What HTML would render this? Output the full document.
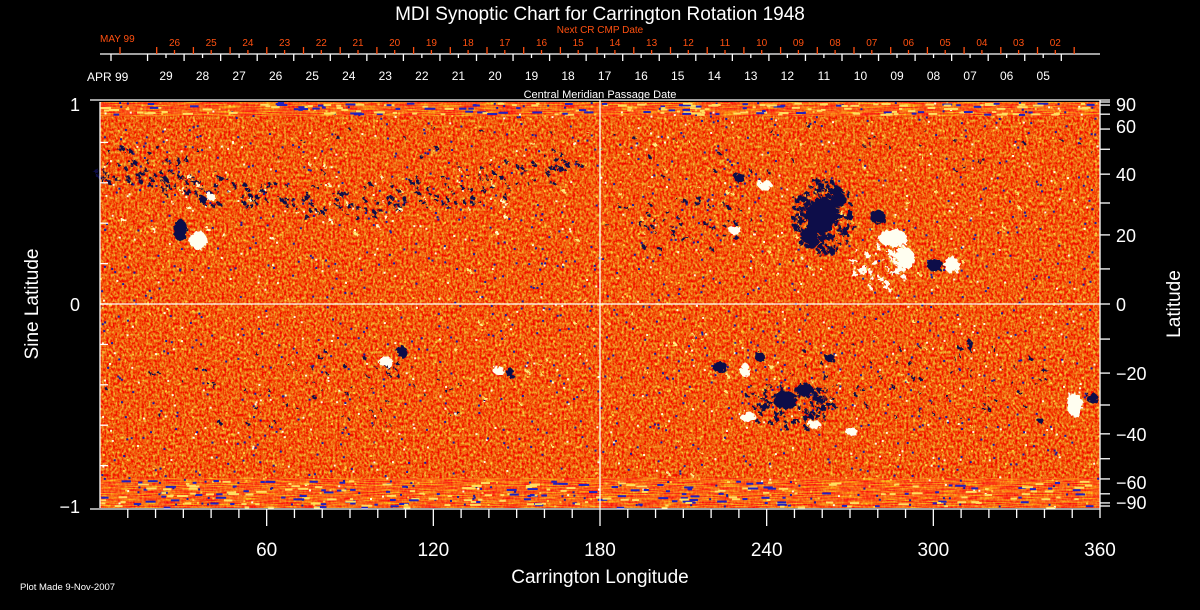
<!DOCTYPE html>
<html><head><meta charset="utf-8"><style>
html,body{margin:0;padding:0;background:#000;width:1200px;height:610px;overflow:hidden}
svg{display:block}
text{font-family:"Liberation Sans","DejaVu Sans",sans-serif}
</style></head><body>
<svg id="s" width="1200" height="610" viewBox="0 0 1200 610" xmlns="http://www.w3.org/2000/svg">
<defs>
<filter id="nz" x="0" y="0" width="100%" height="100%" color-interpolation-filters="sRGB">
<feTurbulence type="fractalNoise" baseFrequency="0.45 0.35" numOctaves="2" seed="3" result="t"/>
<feColorMatrix in="t" type="matrix" values="0 0 0 0 0.95  1.4 0 0 0 -0.35  0.6 0 0 0 -0.25  0 0 0 0 1"/>
</filter>
<filter id="nz2" x="0" y="0" width="100%" height="100%" color-interpolation-filters="sRGB">
<feTurbulence type="fractalNoise" baseFrequency="0.05 0.9" numOctaves="2" seed="5" result="t"/>
<feColorMatrix in="t" type="matrix" values="0 0 0 0 1  2 0 0 0 -0.6  0 0 0 0 0.1  0 0 0 0 0.6"/>
</filter>
<filter id="rough"><feTurbulence type="fractalNoise" baseFrequency="0.25" numOctaves="2" seed="2"/><feDisplacementMap in="SourceGraphic" scale="8"/></filter>
</defs>
<rect x="100" y="102" width="1000" height="406" fill="#ee5414"/>
<rect x="100" y="102" width="1000" height="406" filter="url(#nz)"/>
<rect x="100" y="102" width="1000" height="14" filter="url(#nz2)"/>
<rect x="100" y="478" width="1000" height="30" filter="url(#nz2)"/>
<g id="spk"></g>
<g id="blobs" filter="url(#rough)"></g>
<g id="ax" stroke="#fff" stroke-width="1.3" fill="none"></g>
<g id="tx" fill="#fff"></g>
<text x="600" y="20" text-anchor="middle" font-size="19" fill="#fff">MDI Synoptic Chart for Carrington Rotation 1948</text>
<text x="600" y="33" text-anchor="middle" font-size="10" fill="#ff5010">Next CR CMP Date</text>
<text x="100" y="42" font-size="10" fill="#ff5010">MAY 99</text>
<text x="87" y="81" font-size="12" fill="#fff">APR 99</text>
<text x="600" y="98" text-anchor="middle" font-size="11" fill="#fff">Central Meridian Passage Date</text>
<text x="80" y="111" text-anchor="end" font-size="18" fill="#fff">1</text>
<text x="80" y="311" text-anchor="end" font-size="18" fill="#fff">0</text>
<text x="80" y="513" text-anchor="end" font-size="18" fill="#fff">−1</text>
<text transform="translate(38,304) rotate(-90)" text-anchor="middle" font-size="19" fill="#fff">Sine Latitude</text>
<text transform="translate(1180,304) rotate(-90)" text-anchor="middle" font-size="19" fill="#fff">Latitude</text>
<text x="600" y="583" text-anchor="middle" font-size="19" fill="#fff">Carrington Longitude</text>
<text x="20" y="590" font-size="9.5" fill="#fff">Plot Made  9-Nov-2007</text>
</svg>
<script>
const NS="http://www.w3.org/2000/svg";
function el(p,t,a,txt){const e=document.createElementNS(NS,t);for(const k in a)e.setAttribute(k,a[k]);if(txt!==undefined)e.textContent=txt;p.appendChild(e);return e;}
const ax=document.getElementById('ax'),tx=document.getElementById('tx'),bl=document.getElementById('blobs'),sp=document.getElementById('spk');
const D='#0c0c48',W='#fffef0';
let seed=7;function r(){seed=(seed*16807)%2147483647;return seed/2147483647;}
for(let i=0;i<2500;i++){const y=102+r()*404,x=100+r()*998;const u=r();
 const c=u<0.45?'#1a1aa0':(u<0.8?'#ffd040':'#ffffe0');el(sp,'rect',{x:x,y:y,width:2,height:2,fill:c});}
for(let i=0;i<450;i++){const y=r()<0.4?102+r()*12:480+r()*27,x=100+r()*990;const u=r();
 el(sp,'rect',{x:x,y:y,width:3+r()*8,height:2,fill:u<0.4?'#2020c0':'#ffe060'});}
function spray(cx,cy,rx,ry,n,c,s){for(let i=0;i<n;i++){const a=r()*6.283,d=Math.sqrt(r());el(bl,'rect',{x:cx+Math.cos(a)*d*rx,y:cy+Math.sin(a)*d*ry,width:s*(0.5+r()),height:s*(0.5+r()),fill:c});}}
// northern dark band (curved)
for(let k=0;k<10;k++){const x=120+k*48;const y=165+Math.sin(k/9*3.1)*35;spray(x,y,30,18,22,D,3);}
spray(150,165,50,20,20,D,3);
spray(330,200,230,45,40,'#ffffc8',3);
spray(680,220,80,30,45,D,3);spray(300,390,200,40,70,D,2.5);
spray(900,380,170,40,70,D,2.5);spray(600,150,500,30,50,D,2.5);
spray(822,215,32,38,140,D,4);spray(790,405,45,22,70,D,4);
spray(880,265,35,25,35,W,4);spray(700,300,400,180,90,'#ffee80',2.5);
const B=[[180,230,7,11,D],[198,240,9,9,W],[210,197,5,4,W],[203,200,4,4,D],
[822,215,15,18,D],[810,235,9,9,D],[838,200,8,8,D],[878,217,8,7,D],[893,238,14,9,W],[905,258,9,11,W],[935,265,8,6,D],[952,265,8,8,W],
[740,178,6,5,D],[765,185,7,5,W],[735,230,7,4,W],
[386,362,7,5,W],[402,352,5,6,D],[498,370,6,4,W],[510,373,4,5,D],
[720,367,7,6,D],[745,370,5,7,W],[760,357,5,5,D],[830,358,5,4,D],[785,400,12,9,D],[805,390,8,7,D],[748,417,8,5,W],[852,432,6,4,W],[815,425,6,4,W],
[1075,405,8,12,W],[1092,398,6,5,D],[970,345,3,5,D],[1040,420,3,3,D]];
B.forEach(b=>el(bl,'ellipse',{cx:b[0],cy:b[1],rx:b[2],ry:b[3],fill:b[4]}));
el(ax,'line',{x1:100,y1:102,x2:100,y2:508});el(ax,'line',{x1:1100,y1:100,x2:1100,y2:518});
el(ax,'line',{x1:90,y1:100,x2:1110,y2:100});el(ax,'line',{x1:90,y1:509,x2:1100,y2:509});
el(ax,'line',{x1:100,y1:304,x2:1100,y2:304});el(ax,'line',{x1:600,y1:100,x2:600,y2:509});
el(ax,'line',{x1:100,y1:54,x2:1100,y2:54});
const wd=['29','28','27','26','25','24','23','22','21','20','19','18','17','16','15','14','13','12','11','10','09','08','07','06','05'];
for(let i=0;i<27;i++){const x=111+i*36.55;if(x<1100)el(ax,'line',{x1:x,y1:54,x2:x,y2:61});}
wd.forEach((t,i)=>{const x=166+i*36.55;el(ax,'line',{x1:x,y1:54,x2:x,y2:58});el(tx,'text',{x:x,y:80,'text-anchor':'middle','font-size':12},t);});
const rd=['26','25','24','23','22','21','20','19','18','17','16','15','14','13','12','11','10','09','08','07','06','05','04','03','02'];
for(let i=0;i<27;i++){const x=120+i*36.7;if(x<1100)el(ax,'line',{x1:x,y1:54,x2:x,y2:47,stroke:'#ff5010'});}
rd.forEach((t,i)=>{const x=174.5+i*36.7;el(ax,'line',{x1:x,y1:54,x2:x,y2:50,stroke:'#ff5010'});el(tx,'text',{x:x,y:46,'text-anchor':'middle','font-size':10,fill:'#ff5010'},t);});
for(let d=10;d<360;d+=10){const x=100+d*1000/360;el(ax,'line',{x1:x,y1:509,x2:x,y2:d%60?518:526});}
[60,120,180,240,300,360].forEach(d=>el(tx,'text',{x:100+d*1000/360,y:556,'text-anchor':'middle','font-size':19},String(d)));
for(let v=-0.8;v<0.9;v+=0.2){const y=304-202*v;el(ax,'line',{x1:100,y1:y,x2:108,y2:y});}
for(let l=-90;l<=90;l+=10){const y=304-202*Math.sin(l*Math.PI/180);el(ax,'line',{x1:1100,y1:y,x2:1110,y2:y});}
[90,60,40,20,0,-20,-40,-60,-90].forEach(l=>{let y=304-202*Math.sin(l*Math.PI/180);if(l==90)y=104;if(l==-90)y=502;if(l==60)y=126;if(l==-60)y=482;
el(tx,'text',{x:1116,y:y+7,'font-size':18},(l<0?'−':' ')+Math.abs(l));});
</script>
</body></html>
